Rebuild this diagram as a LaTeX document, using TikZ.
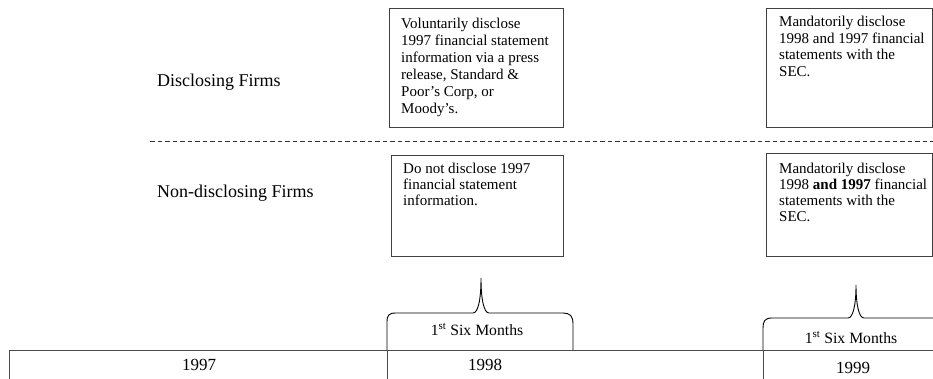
\documentclass[tikz,border=0pt]{standalone}
\usepackage{fontspec}
\setmainfont{Liberation Serif}
\begin{document}
\begin{tikzpicture}[x=1pt,y=-1pt,
  boxframe/.style={draw=black!75,line width=1.3pt,inner sep=0pt,anchor=north west},
  boxtext/.style={anchor=north west,inner sep=0pt,align=left,font=\fontsize{15}{16.5}\selectfont},
  sidelabel/.style={anchor=base west,inner sep=0pt,font=\fontsize{18}{20}\selectfont},
  yearlabel/.style={anchor=base,inner sep=0pt,font=\fontsize{17}{20}\selectfont},
  sixlabel/.style={anchor=base,inner sep=0pt,font=\fontsize{15.7}{19}\selectfont},
  bracestyle/.style={draw=black,line width=0.9pt},
  tableline/.style={draw=black!70,line width=1pt}]
\useasboundingbox (0,0) rectangle (933,379);

% side labels
\node[sidelabel] (dlab) at (157,87) {Disclosing Firms};
\node[sidelabel] (nlab) at (157,198) {Non-disclosing Firms};

% dashed separator
\coordinate (dashL) at (150,142);
\coordinate (dashR) at (933,142);
\draw[black!80,line width=1pt,dash pattern=on 4.5pt off 3pt] (dashL) -- (dashR);

% boxes
\node[boxframe,minimum width=174pt,minimum height=119pt] (b1) at (389,8) {};
\node[boxframe,minimum width=165.5pt,minimum height=119pt] (b2) at (766,8) {};
\node[boxframe,minimum width=172pt,minimum height=101pt] (b3) at (391,155) {};
\node[boxframe,minimum width=165.5pt,minimum height=103pt] (b4) at (766,153) {};

\node[boxtext,font=\fontsize{15}{17}\selectfont] (t1) at (401,18) {Voluntarily disclose\\1997 financial statement\\information via a press\\release, Standard \&\\Poor’s Corp, or\\Moody’s.};
\node[boxtext] (t2) at (779,16) {Mandatorily disclose\\1998 and 1997 financial\\statements with the\\SEC.};
\node[boxtext,font=\fontsize{15}{16}\selectfont] (t3) at (403,163) {Do not disclose 1997\\financial statement\\information.};
\node[boxtext,font=\fontsize{15}{16}\selectfont] (t4) at (779,163) {Mandatorily disclose\\1998 \textbf{and 1997} financial\\statements with the\\SEC.};

% year table
\draw[tableline] (9,379) -- (9,350) -- (933,350);
\draw[tableline] (387,350) -- (387,379);
\draw[tableline] (763,350) -- (763,379);
\node[yearlabel] (y97) at (199,370) {1997};
\node[yearlabel] (y98) at (485,370) {1998};
\node[yearlabel] (y99) at (853,373) {1999};

% braces
\draw[bracestyle] (387,350) -- (387,322) .. controls (387,315) and (389,313) .. (396,313)
  -- (473,313) .. controls (478,313) and (481,300) .. (481,278)
  .. controls (481,300) and (484,313) .. (489,313)
  -- (563,313) .. controls (570,313) and (573,316) .. (573,324) -- (573,350);
\draw[bracestyle] (763,350) -- (763,328) .. controls (763,321) and (765,318) .. (772,318)
  -- (848,318) .. controls (853,318) and (856,305) .. (856,285)
  .. controls (856,305) and (859,318) .. (864,318) -- (933,318);

\node[sixlabel] (s1) at (477,335) {1\textsuperscript{st} Six Months};
\node[sixlabel] (s2) at (851,343) {1\textsuperscript{st} Six Months};
\end{tikzpicture}
\end{document}
